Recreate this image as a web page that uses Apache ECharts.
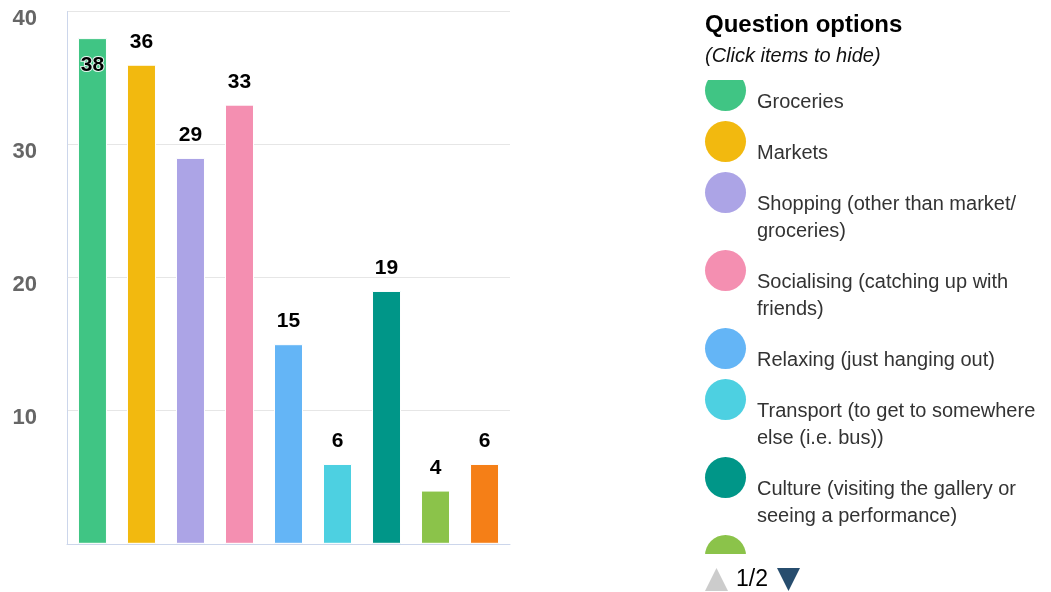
<!DOCTYPE html>
<html>
<head>
<meta charset="utf-8">
<title>Question options</title>
<script src="https://cdn.jsdelivr.net/npm/echarts@6/dist/echarts.min.js"></script>
<style>
  html, body { margin: 0; padding: 0; background: #fff; }
  #chart { width: 1051px; height: 592px; }
</style>
</head>
<body>
<div id="chart"></div>
<script>
// Answer options, one bar (and one legend entry) per option
const optionNames = [
  'Groceries',
  'Markets',
  'Shopping (other than market/ groceries)',
  'Socialising (catching up with friends)',
  'Relaxing (just hanging out)',
  'Transport (to get to somewhere else (i.e. bus))',
  'Culture (visiting the gallery or seeing a performance)',
  'Exercise',
  'Other'
];
// Legend text, broken into lines
const legendLabels = [
  'Groceries',
  'Markets',
  'Shopping (other than market/\ngroceries)',
  'Socialising (catching up with\nfriends)',
  'Relaxing (just hanging out)',
  'Transport (to get to somewhere\nelse (i.e. bus))',
  'Culture (visiting the gallery or\nseeing a performance)',
  'Exercise',
  'Other'
];
const optionCounts = [38, 36, 29, 33, 15, 6, 19, 4, 6];
const optionColors = ['#40C584', '#F2B90F', '#ACA4E6', '#F48FB1', '#64B5F6', '#4DD0E1', '#009688', '#8BC34A', '#F57F17'];
const yMin = 0, yMax = 40, yStep = 10;

const FONT = '"Liberation Sans", Arial, Helvetica, sans-serif';
const chart = echarts.init(document.getElementById('chart'), null, { renderer: 'canvas' });

const series = optionNames.map((name, i) => {
  const v = optionCounts[i];
  const inside = v > yMax - 3;
  return {
    name,
    type: 'bar',
    data: [v],
    barWidth: 29,
    barGap: '69%',
    itemStyle: { color: optionColors[i], borderColor: '#fff', borderWidth: 1 },
    label: {
      show: true,
      position: inside ? 'insideTop' : 'top',
      distance: inside ? 17 : 12,
      color: '#000',
      fontFamily: FONT,
      fontSize: 21,
      fontWeight: 'bold',
      textBorderColor: 'rgba(255,255,255,0.85)',
      textBorderWidth: 2
    }
  };
});

// Legend entries: a coloured disc followed by the (possibly wrapped) label,
// with the first text line sitting a little below the disc's centre.
const legendRich = {
  t: { fontFamily: FONT, fontSize: 20, height: 27, lineHeight: 46, color: '#333', padding: [19, 0, 0, 11], verticalAlign: 'top' },
  u: { fontFamily: FONT, fontSize: 20, height: 27, lineHeight: 27, color: '#333', padding: [0, 0, 0, 52] }
};
optionColors.forEach((c, i) => {
  legendRich['d' + i] = { width: 41, height: 41, borderRadius: 20.5, backgroundColor: c, verticalAlign: 'top' };
});

function legendText(name) {
  const i = optionNames.indexOf(name);
  const lines = legendLabels[i].split('\n');
  return lines.map((line, k) => k === 0 ? '{d' + i + '|}{t|' + line + '}' : '{u|' + line + '}').join('\n');
}

chart.setOption({
  animation: false,
  backgroundColor: '#fff',
  title: {
    left: 705,
    top: 13,
    padding: 0,
    itemGap: 9,
    text: 'Question options',
    textStyle: { fontFamily: FONT, fontSize: 24, fontWeight: 'bold', color: '#000' },
    subtext: '(Click items to hide)',
    subtextStyle: { fontFamily: FONT, fontSize: 20, fontStyle: 'italic', color: '#111' }
  },
  legend: {
    type: 'plain',
    orient: 'vertical',
    left: 700,
    top: 70,
    height: 1000,
    padding: 0,
    itemGap: 5,
    itemWidth: 0,
    itemHeight: 0,
    icon: 'circle',
    itemStyle: { borderWidth: 0 },
    data: optionNames,
    formatter: legendText,
    textStyle: { fontFamily: FONT, fontSize: 20, color: '#333', rich: legendRich }
  },
  grid: { left: 67, right: 541, top: 11.5, bottom: 48.2, containLabel: false },
  xAxis: {
    type: 'category',
    data: [''],
    axisLine: { show: true, lineStyle: { color: '#ccd6eb', width: 1 } },
    axisTick: { show: false },
    axisLabel: { show: false },
    splitLine: { show: false }
  },
  yAxis: {
    type: 'value',
    min: yMin,
    max: yMax,
    interval: yStep,
    axisLine: { show: true, lineStyle: { color: '#ccd6eb', width: 1 } },
    axisTick: { show: false },
    splitLine: { show: true, lineStyle: { color: '#e6e6e6', width: 1 } },
    axisLabel: {
      showMinLabel: false,
      margin: 30,
      formatter: v => '{v|' + v + '}',
      rich: {
        v: { color: '#666', fontFamily: FONT, fontSize: 22, fontWeight: 'bold', padding: [15, 0, 0, 0] }
      }
    }
  },
  series,
  graphic: [
    // legend viewport edges
    { type: 'rect', z: 100, shape: { x: 695, y: 66, width: 60, height: 14 }, style: { fill: '#fff' } },
    { type: 'rect', z: 100, shape: { x: 695, y: 554, width: 356, height: 38 }, style: { fill: '#fff' } },
    // page navigation
    { type: 'polygon', z: 101, shape: { points: [[705, 591], [716.5, 568], [728, 591]] }, style: { fill: '#cccccc' } },
    { type: 'text', z: 101, x: 736, y: 579.5, style: { text: '1/2', fill: '#000', font: '23px ' + FONT, verticalAlign: 'middle', align: 'left' } },
    { type: 'polygon', z: 101, shape: { points: [[777, 568], [800, 568], [788.5, 591]] }, style: { fill: '#274d6e' } }
  ]
});
</script>
</body>
</html>
